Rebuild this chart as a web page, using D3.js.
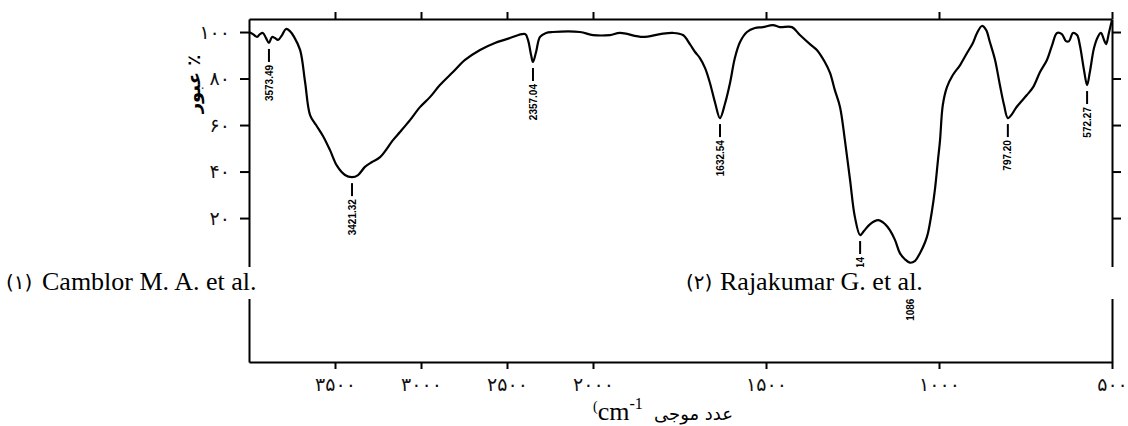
<!DOCTYPE html>
<html lang="fa">
<head>
<meta charset="utf-8">
<title>FTIR</title>
<script src="https://d3js.org/d3.v7.min.js"></script>
<style>
body { margin: 0; background: #fff; }
</style>
</head>
<body>
<svg id="chart" width="1128" height="426"></svg>
<script>
// spectrum (wavenumber cm-1, % transmittance)
var wavenumber = [4000, 3977, 3953, 3936, 3919, 3901, 3884, 3866, 3849, 3831, 3808, 3785, 3762, 3738, 3703, 3674, 3645, 3610, 3570, 3529, 3488, 3442, 3401, 3366, 3326, 3285, 3238, 3163, 3122, 3064, 3006, 2948, 2890, 2814, 2744, 2657, 2570, 2483, 2395, 2378, 2360, 2349, 2331, 2308, 2273, 2233, 2076, 2000, 1951, 1922, 1856, 1806, 1769, 1740, 1720, 1705, 1691, 1676, 1662, 1647, 1633, 1618, 1604, 1590, 1575, 1555, 1532, 1509, 1480, 1460, 1425, 1402, 1373, 1353, 1330, 1315, 1301, 1286, 1272, 1257, 1243, 1228, 1217, 1199, 1176, 1156, 1142, 1127, 1113, 1098, 1084, 1069, 1055, 1040, 1032, 1020, 1012, 1003, 997, 989, 977, 960, 939, 919, 902, 890, 876, 864, 853, 838, 824, 812, 801, 789, 778, 766, 746, 728, 708, 688, 673, 659, 645, 633, 624, 613, 601, 593, 581, 572, 564, 552, 541, 532, 523, 517, 509, 500];
var transmittance = [100.0, 99.1, 97.9, 99.1, 99.6, 97.4, 95.3, 97.9, 97.4, 96.6, 98.7, 101.3, 100.4, 97.9, 92.3, 78.5, 64.3, 60.0, 55.3, 49.2, 42.4, 38.5, 37.6, 38.5, 42.0, 44.1, 46.2, 53.5, 57.0, 62.1, 67.7, 72.0, 77.2, 82.8, 88.0, 92.3, 95.3, 97.4, 99.1, 96.6, 90.1, 87.1, 91.4, 97.9, 99.6, 100.0, 100.0, 98.7, 98.7, 99.6, 97.9, 99.1, 99.6, 98.7, 94.8, 91.4, 88.8, 84.5, 78.1, 69.5, 63.0, 69.5, 78.1, 88.8, 95.7, 100.0, 101.7, 102.1, 103.0, 102.1, 102.1, 98.7, 94.8, 92.3, 87.1, 82.4, 75.0, 67.7, 53.5, 36.3, 20.4, 12.7, 14.4, 17.4, 19.1, 17.4, 14.8, 10.5, 4.9, 2.2, 0.8, 1.6, 4.9, 9.7, 13.5, 23.4, 32.0, 44.9, 53.5, 68.6, 76.3, 81.5, 85.8, 91.0, 95.3, 99.6, 102.6, 100.9, 95.7, 88.0, 77.2, 68.6, 63.0, 64.7, 67.3, 69.5, 72.9, 76.3, 82.8, 88.0, 94.4, 99.6, 99.1, 96.1, 96.1, 99.6, 98.7, 94.4, 83.7, 77.2, 82.8, 93.1, 97.9, 99.6, 96.6, 94.8, 99.6, 105.2];

var peakWave = [3884, 3401, 2349, 1633, 1228, 1084, 801, 572];
var peakT = [95.3, 37.6, 87.1, 63.0, 12.7, 0.8, 63.0, 77.2];
var peakLabels = ["3573.49", "3421.32", "2357.04", "1632.54", "1224.14", "1086.64", "797.20", "572.27"];

var xTicks = [3500, 3000, 2500, 2000, 1500, 1000, 500];
var xTickLabels = ["۳۵۰۰", "۳۰۰۰", "۲۵۰۰", "۲۰۰۰", "۱۵۰۰", "۱۰۰۰", "۵۰۰"];
var yTicks = [100, 80, 60, 40, 20];
var yTickLabels = ["۱۰۰", "۸۰", "۶۰", "۴۰", "۲۰"];

var refNums = ["(۱)", "(۲)"];
var refNames = ["Camblor M. A. et al.", "Rajakumar G. et al."];

var svg = d3.select("#chart");
var plotLeft = 249, plotRight = 1112, plotTop = 19, plotBottom = 362;

// x axis changes scale at 2000 cm-1
var x = d3.scaleLinear().domain([4000, 2000, 500]).range([plotLeft, 593, plotRight]);
var y = d3.scaleLinear().domain([-41.9, 105.6]).range([plotBottom, plotTop]);

var persian = "'DejaVu Sans', sans-serif";

function styleAxis(g) {
    g.select(".domain").attr("stroke", "#000").attr("stroke-width", 2);
    g.selectAll(".tick line").attr("stroke", "#000").attr("stroke-width", 2);
    g.selectAll(".tick text").attr("font-family", persian).attr("font-size", 19).attr("fill", "#111");
}

svg.append("g")
    .attr("transform", "translate(0," + plotBottom + ")")
    .call(d3.axisBottom(x).tickValues(xTicks).tickFormat(function(d, i) { return xTickLabels[i]; })
        .tickSize(7).tickSizeOuter(0).tickPadding(9))
    .call(styleAxis);

svg.append("g")
    .attr("transform", "translate(0," + plotTop + ")")
    .call(d3.axisTop(x).tickValues(xTicks).tickFormat("").tickSize(7).tickSizeOuter(0))
    .call(styleAxis);

svg.append("g")
    .attr("transform", "translate(" + plotLeft + ",0)")
    .call(d3.axisLeft(y).tickValues(yTicks).tickFormat(function(d, i) { return yTickLabels[i]; })
        .tickSize(9).tickSizeOuter(0).tickPadding(10))
    .call(styleAxis);

svg.append("g")
    .attr("transform", "translate(" + plotRight + ",0)")
    .call(d3.axisRight(y).tickValues(yTicks).tickFormat("").tickSize(9).tickSizeOuter(0))
    .call(styleAxis);

// spectrum
var pts = wavenumber.map(function(w, i) { return [w, transmittance[i]]; });
var line = d3.line()
    .x(function(d) { return x(d[0]); })
    .y(function(d) { return y(d[1]); })
    .curve(d3.curveCatmullRom.alpha(0.5));

svg.append("path")
    .datum(pts)
    .attr("d", line)
    .attr("fill", "none")
    .attr("stroke", "#000")
    .attr("stroke-width", 2.2)
    .attr("stroke-linejoin", "round");

// peak markers
var peaks = svg.append("g");
peakWave.forEach(function(w, i) {
    var px = x(w), py = y(peakT[i]);
    peaks.append("line")
        .attr("x1", px).attr("x2", px)
        .attr("y1", py + 6).attr("y2", py + 19)
        .attr("stroke", "#000").attr("stroke-width", 2);
    peaks.append("text")
        .attr("transform", "translate(" + px + "," + (py + 22) + ") rotate(-90)")
        .attr("text-anchor", "end")
        .attr("dy", "0.36em")
        .attr("font-family", "'Liberation Sans', Arial, sans-serif")
        .attr("font-weight", "bold")
        .attr("font-size", 10)
        .text(peakLabels[i]);
});

// reference captions on white boxes
var boxes = [[0, 263], [680, 1126]];
var numX = [6, 686], nameX = [42, 720];
refNames.forEach(function(name, i) {
    svg.append("rect")
        .attr("x", boxes[i][0]).attr("y", 267)
        .attr("width", boxes[i][1] - boxes[i][0]).attr("height", 32)
        .attr("fill", "#fff");
    svg.append("text")
        .attr("x", numX[i]).attr("y", 289)
        .attr("font-family", persian).attr("font-size", 20)
        .text(refNums[i]);
    svg.append("text")
        .attr("x", nameX[i]).attr("y", 290)
        .attr("font-family", "'Liberation Serif', 'Times New Roman', serif")
        .attr("font-size", 26)
        .text(name);
});

// axis titles
var xt = svg.append("text")
    .attr("x", 593).attr("y", 420)
    .attr("font-family", "'Liberation Serif', 'Times New Roman', serif");
xt.append("tspan").attr("font-size", 14).attr("dy", -9).text("(");
xt.append("tspan").attr("font-size", 26).attr("dy", 9).text("cm");
xt.append("tspan").attr("font-size", 16).attr("dy", -11).text("-1");

svg.append("text")
    .attr("x", 733).attr("y", 420)
    .attr("text-anchor", "end")
    .attr("font-family", persian).attr("font-size", 18)
    .text("عدد موجی");

svg.append("text")
    .attr("transform", "translate(200,84) rotate(-90)")
    .attr("text-anchor", "middle")
    .attr("font-family", persian).attr("font-size", 18)
    .attr("font-weight", "bold")
    .text("عبور ٪");
</script>
</body>
</html>
